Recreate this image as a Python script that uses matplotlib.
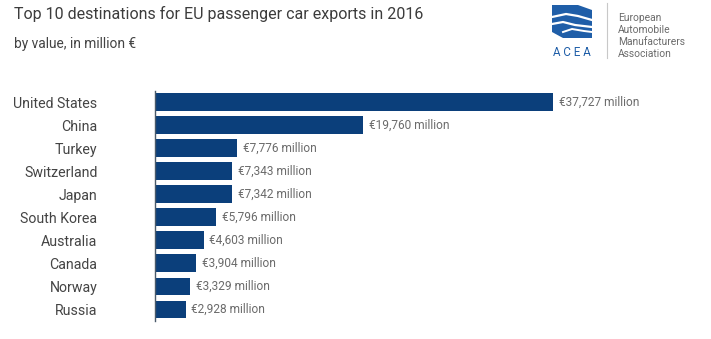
import matplotlib
matplotlib.use("Agg")
import matplotlib.pyplot as plt
from matplotlib.patches import Polygon
import numpy as np

countries = ["United States", "China", "Turkey", "Switzerland", "Japan",
             "South Korea", "Australia", "Canada", "Norway", "Russia"]
values = [37727, 19760, 7776, 7343, 7342, 5796, 4603, 3904, 3329, 2928]

plt.rcParams['font.family'] = ['Roboto', 'DejaVu Sans']

W, H = 711, 339
fig = plt.figure(figsize=(W / 100, H / 100), dpi=100)

BAR = "#0b3f7b"
LOGO = "#1f5ea8"

# main bar axes (pixel layout: x 155..700, y 91..321)
left, right, top, bottom = 155, 700, 90.7, 320.9
ax = fig.add_axes([left / W, 1 - bottom / H, (right - left) / W, (bottom - top) / H])
xmax = 37727 * (right - left) / 398.0
ypos = np.arange(len(countries))
ax.barh(ypos, values, height=0.77, color=BAR, zorder=2)
ax.set_xlim(0, xmax)
ax.set_ylim(len(countries) - 0.5, -0.5)
for s in ["top", "right", "bottom"]:
    ax.spines[s].set_visible(False)
ax.spines["left"].set_color("#4a5a6a")
ax.spines["left"].set_linewidth(1.0)
ax.set_xticks([])
ax.set_yticks(ypos)
ax.set_yticklabels(countries, fontsize=10.2, color="#444444")
ax.tick_params(axis="y", length=0, pad=41.5)
ax.patch.set_alpha(0)

for y, v in zip(ypos, values):
    ax.annotate(f"€{v:,} million", xy=(v, y), xytext=(4, 0), textcoords="offset points",
                va="center", ha="left", fontsize=8.6, color="#6b6b6b")

# title and subtitle
fig.text(14 / W, 1 - 14 / H, "Top 10 destinations for EU passenger car exports in 2016",
         fontsize=11.5, color="#3c3c3c", va="center", ha="left")
fig.text(14 / W, 1 - 44 / H, "by value, in million €",
         fontsize=9.9, color="#444444", va="center", ha="left")

# association logo drawn on a pixel-space overlay
ov = fig.add_axes([0, 0, 1, 1])
ov.set_xlim(0, W)
ov.set_ylim(H, 0)
ov.set_axis_off()
ov.patch.set_alpha(0)

cube = [(552, 5), (578, 5), (592, 10), (592, 38), (563, 38), (552, 32)]
ov.add_patch(Polygon(cube, closed=True, facecolor=LOGO, edgecolor="none"))
# white cuts giving the layered look
ov.plot([552, 566, 578, 592], [17, 14, 16, 20], color="white", lw=1.6)
ov.plot([552, 563, 575, 592], [24, 22, 25, 27], color="white", lw=1.6)
ov.plot([563, 572, 584, 592], [32, 29, 31, 32], color="white", lw=1.4)
ov.text(572, 53, "A C E A", fontsize=8.4, color=LOGO, ha="center", va="center")
ov.plot([607, 607], [3, 58], color="#c8c8c8", lw=0.8)
for i, line in enumerate(["European", "Automobile", "Manufacturers", "Association"]):
    ov.text(618, 18 + i * 12, line, fontsize=7.4, color="#6b6b6b", ha="left", va="center")

fig.savefig("out.png", dpi=100)
